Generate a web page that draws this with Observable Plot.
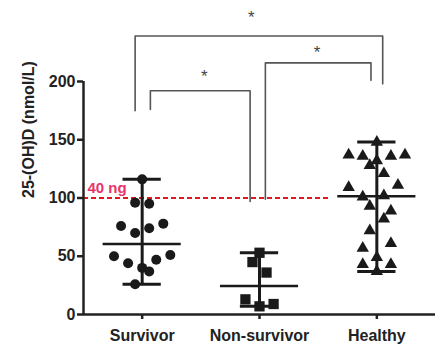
<!DOCTYPE html>
<html>
<head>
<meta charset="utf-8">
<script src="https://cdn.jsdelivr.net/npm/d3@7"></script>
<script src="https://cdn.jsdelivr.net/npm/@observablehq/plot@0.6"></script>
<style>
  html, body { margin: 0; padding: 0; background: #fff; }
</style>
</head>
<body>
<div id="chart"></div>
<script>
const categories = ["Survivor", "Non-survivor", "Healthy"];
const yTicks = [0, 50, 100, 150, 200];
const yLabel = "25-(OH)D (nmol/L)";

const survivorValues = [116, 96, 95, 76, 78, 74, 70, 50, 51, 44, 47, 40, 37, 26];
const survivorSlots  = [0, -1, 1, -3, 3, 1, -1, -4, 4, -2, 2, 0, 1, -1];
const nonSurvivorValues = [53, 45, 36, 13, 7, 9];
const nonSurvivorSlots  = [0, -1, 1, -2, 0, 2];
const healthyValues = [148, 137, 136, 136, 137, 132, 128, 121, 109, 111, 101, 102, 93, 89, 82, 72, 57, 61, 49, 43, 43, 37];
const healthySlots  = [0, -4, -2, 2, 4, 0, -1, 1, -4, 3, -2, 1, -1, 2, 1, -1, -2, 2, 0, -2, 2, 0];

const thresholdValue = 100;
const thresholdLabel = "40 ng";
const thresholdEnd = 1.61;

// significance brackets (x in category units, y in nmol/L)
const bracketFrom = [-0.06, 0.07, 1.05];
const bracketTo = [2.05, 0.92, 1.95];
const bracketTop = [239, 192, 216];
const bracketLeftEnd = [175, 176, 99];
const bracketRightEnd = [198, 97, 201];
const starX = [0.93, 0.53, 1.49];
const starY = [258, 208, 228];
const starLabel = "*";

// ---- build tables ----
const slotWidth = 0.06;
const groups = [
  {values: survivorValues, slots: survivorSlots, symbol: "circle", r: 5},
  {values: nonSurvivorValues, slots: nonSurvivorSlots, symbol: "square", r: 5.8},
  {values: healthyValues, slots: healthySlots, symbol: "triangle", r: 4.6}
];
const stats = groups.map((g, i) => ({
  g: i,
  min: d3.min(g.values),
  max: d3.max(g.values),
  median: d3.median(g.values)
}));
const bracketPaths = bracketFrom.flatMap((x1, i) => [
  {id: i, x: x1, y: bracketLeftEnd[i]},
  {id: i, x: x1, y: bracketTop[i]},
  {id: i, x: bracketTo[i], y: bracketTop[i]},
  {id: i, x: bracketTo[i], y: bracketRightEnd[i]}
]);
const stars = starX.map((x, i) => ({x, y: starY[i]}));

const ink = "#1a1a1a";
const capHalf = 0.163, medHalf = 0.333;

const dotMarks = groups.map((grp, i) =>
  Plot.dot(grp.values.map((v, j) => ({x: i + grp.slots[j] * slotWidth, y: v})), {
    x: "x", y: "y", symbol: grp.symbol, r: grp.r, fill: ink, stroke: "none"
  })
);

const chart = Plot.plot({
  width: 447,
  height: 361,
  marginLeft: 83,
  marginRight: 12,
  marginTop: 81,
  marginBottom: 47,
  x: {type: "linear", domain: [-0.5, 2.5], axis: null},
  y: {domain: [0, 200], axis: null},
  style: {
    fontFamily: "'Liberation Sans', Arial, sans-serif",
    fontSize: "16px",
    fontWeight: "bold",
    color: "#222",
    background: "#fff",
    overflow: "visible"
  },
  marks: [
    // brackets
    Plot.line(bracketPaths, {x: "x", y: "y", z: "id", stroke: "#555", strokeWidth: 1.6, curve: "linear"}),
    Plot.text(stars, {x: "x", y: "y", text: () => starLabel, fill: "#444", fontWeight: "normal", fontSize: 17, dy: 4}),
    // threshold
    Plot.ruleY([thresholdValue], {x1: -0.5, x2: thresholdEnd, stroke: "#e3171f", strokeWidth: 2, strokeDasharray: "5,3"}),
    Plot.text([thresholdLabel], {x: -0.5, y: thresholdValue, dx: 4, dy: -10, textAnchor: "start", fill: "#e8336b", fontSize: 15}),
    // range bars
    Plot.ruleX(stats, {x: "g", y1: "min", y2: "max", stroke: ink, strokeWidth: 3}),
    Plot.ruleY(stats, {y: "min", x1: d => d.g - capHalf, x2: d => d.g + capHalf, stroke: ink, strokeWidth: 3}),
    Plot.ruleY(stats, {y: "max", x1: d => d.g - capHalf, x2: d => d.g + capHalf, stroke: ink, strokeWidth: 3}),
    Plot.ruleY(stats, {y: "median", x1: d => d.g - medHalf, x2: d => d.g + medHalf, stroke: ink, strokeWidth: 2.5}),
    ...dotMarks,
    // axes
    Plot.axisY({ticks: yTicks, tickSize: 6, tickPadding: 2, strokeWidth: 2.5, stroke: "#222", fill: "#222", label: null}),
    Plot.axisX({ticks: [0, 1, 2], tickFormat: i => categories[i], tickSize: 5, tickPadding: 10, strokeWidth: 2.5, stroke: "#222", fill: "#222", label: null}),
    Plot.ruleX([-0.5], {stroke: "#222", strokeWidth: 2.5}),
    Plot.ruleY([0], {stroke: "#222", strokeWidth: 2.5}),
    Plot.text([yLabel], {frameAnchor: "left", dx: -55, rotate: -90, fill: "#222", fontSize: 16})
  ]
});
document.getElementById("chart").appendChild(chart);
</script>
</body>
</html>
